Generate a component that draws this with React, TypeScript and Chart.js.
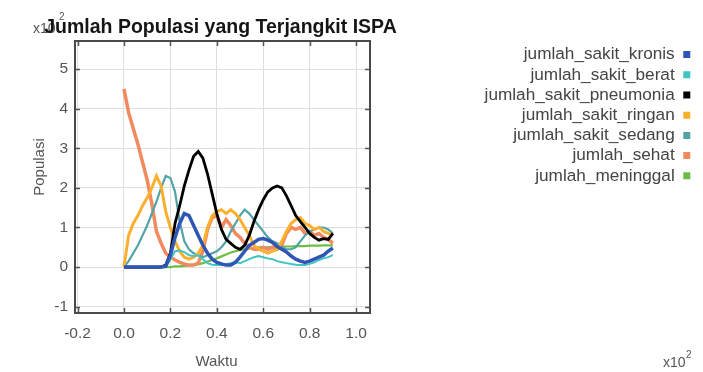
import React, { useEffect, useRef } from "react";
import { Chart, registerables } from "chart.js";

Chart.register(...registerables);

// ---- data (Waktu in units of x10^2, Populasi in units of x10^2) ----
const waktu = [
  0.0, 0.02, 0.04, 0.06, 0.08, 0.1, 0.12, 0.14, 0.16, 0.18, 0.2, 0.22, 0.24, 0.26, 0.28, 0.3,
  0.32, 0.34, 0.36, 0.38, 0.4, 0.42, 0.44, 0.46, 0.48, 0.5, 0.52, 0.54, 0.56, 0.58, 0.6, 0.62,
  0.64, 0.66, 0.68, 0.7, 0.72, 0.74, 0.76, 0.78, 0.8, 0.82, 0.84, 0.86, 0.88, 0.9,
];

const jumlahSakitKronis = [
  0, 0, 0, 0, 0, 0, 0, 0, 0, 0.02, 0.3, 0.75, 1.1, 1.35, 1.3, 1.05, 0.8, 0.55, 0.35, 0.2, 0.12,
  0.08, 0.05, 0.05, 0.12, 0.25, 0.4, 0.55, 0.62, 0.7, 0.72, 0.68, 0.62, 0.52, 0.45, 0.38, 0.28,
  0.2, 0.15, 0.12, 0.15, 0.2, 0.25, 0.3, 0.4, 0.48,
];

const jumlahSakitBerat = [
  0, 0, 0, 0, 0, 0, 0, 0, 0, 0, 0.2, 0.4, 0.42, 0.38, 0.3, 0.28, 0.3, 0.2, 0.1, 0.06, 0.05, 0.05,
  0.07, 0.1, 0.12, 0.1, 0.15, 0.2, 0.25, 0.28, 0.25, 0.22, 0.2, 0.15, 0.12, 0.1, 0.08, 0.06, 0.05,
  0.05, 0.08, 0.12, 0.18, 0.22, 0.25, 0.3,
];

const jumlahSakitPneumonia = [
  0, 0, 0, 0, 0, 0, 0, 0, 0, 0.05, 0.35, 1.1, 1.55, 2.05, 2.45, 2.8, 2.92, 2.75, 2.35, 1.85, 1.35,
  0.95, 0.7, 0.6, 0.5, 0.45, 0.55, 0.8, 1.15, 1.45, 1.7, 1.9, 2.0, 2.05, 2.0, 1.8, 1.55, 1.3, 1.15,
  1.0, 0.85, 0.75, 0.68, 0.72, 0.7, 0.85,
];

const jumlahSakitRingan = [
  0, 0.8, 1.1, 1.3, 1.55, 1.75, 2.0, 2.3, 2.05, 1.4, 1.0, 0.65, 0.4, 0.25, 0.2, 0.25, 0.35, 0.55,
  1.0, 1.3, 1.4, 1.45, 1.35, 1.45, 1.35, 1.2, 1.0, 0.8, 0.55, 0.45, 0.4, 0.35, 0.4, 0.45, 0.65, 0.9,
  1.1, 1.2, 1.25, 1.1, 1.05, 0.95, 1.0, 0.9, 0.85, 0.8,
];

const jumlahSakitSedang = [
  0, 0.15, 0.35, 0.55, 0.8, 1.05, 1.35, 1.65, 2.0, 2.3, 2.25, 1.9, 1.15, 0.65, 0.45, 0.35, 0.3,
  0.25, 0.3, 0.35, 0.4, 0.5, 0.65, 0.9, 1.1, 1.3, 1.45, 1.35, 1.2, 1.05, 0.9, 0.75, 0.65, 0.6, 0.5,
  0.45, 0.45, 0.5, 0.65, 0.8, 0.9, 0.95, 1.0, 1.0, 0.95, 0.85,
];

const jumlahSehat = [
  4.5, 3.9, 3.5, 3.1, 2.65, 2.2, 1.6, 0.9, 0.6, 0.35, 0.25, 0.18, 0.12, 0.08, 0.05, 0.05, 0.1, 0.4,
  0.95, 1.25, 1.3, 1.0, 1.2, 1.05, 0.85, 0.75, 0.6, 0.5, 0.45, 0.45, 0.5, 0.45, 0.5, 0.45, 0.55,
  0.85, 1.0, 0.95, 1.0, 0.85, 0.9, 0.8, 0.85, 0.75, 0.7, 0.6,
];

const jumlahMeninggal = [
  0, 0, 0, 0, 0, 0, 0, 0, 0, 0, 0, 0.02, 0.02, 0.03, 0.04, 0.05, 0.07, 0.1, 0.14, 0.18, 0.22, 0.27,
  0.32, 0.37, 0.4, 0.43, 0.45, 0.47, 0.48, 0.5, 0.5, 0.5, 0.51, 0.51, 0.52, 0.52, 0.52, 0.53, 0.53,
  0.53, 0.54, 0.54, 0.54, 0.55, 0.55, 0.55,
];

const seriesLabels = [
  "jumlah_sakit_kronis",
  "jumlah_sakit_berat",
  "jumlah_sakit_pneumonia",
  "jumlah_sakit_ringan",
  "jumlah_sakit_sedang",
  "jumlah_sehat",
  "jumlah_meninggal",
];
const seriesValues = [
  jumlahSakitKronis,
  jumlahSakitBerat,
  jumlahSakitPneumonia,
  jumlahSakitRingan,
  jumlahSakitSedang,
  jumlahSehat,
  jumlahMeninggal,
];
const seriesColors = ["#2f55b5", "#40c4c4", "#000000", "#fbb02d", "#52a3a6", "#f28a60", "#6cbd45"];
const seriesWidths = [3.5, 2, 2.8, 3, 2.2, 3.5, 2.2];

const chartTitle = "Jumlah Populasi yang Terjangkit ISPA";
const xTitle = "Waktu";
const yTitle = "Populasi";
const multiplierBase = "x10";
const multiplierExp = "2";

const FONT = "Arial, 'Liberation Sans', Helvetica, sans-serif";

const decorPlugin = {
  id: "decor",
  beforeDraw(chart: any) {
    const ctx = chart.ctx;
    ctx.save();
    ctx.fillStyle = "#555";
    ctx.textAlign = "left";
    ctx.textBaseline = "alphabetic";
    // y multiplier (top-left, partially under title)
    ctx.font = `14px ${FONT}`;
    ctx.fillText(multiplierBase, 33, 33);
    ctx.font = `10px ${FONT}`;
    ctx.fillText(multiplierExp, 59, 20);
    ctx.restore();
  },
  afterDraw(chart: any) {
    const ctx = chart.ctx;
    const a = chart.chartArea;
    const xs = chart.scales.x;
    const ys = chart.scales.y;
    ctx.save();
    // inward tick marks
    ctx.strokeStyle = "#555";
    ctx.lineWidth = 1.5;
    const tl = 5;
    ctx.beginPath();
    xs.ticks.forEach((t: any) => {
      const px = Math.round(xs.getPixelForValue(t.value)) + 0.5;
      if (px < a.left || px > a.right) return;
      ctx.moveTo(px, a.bottom);
      ctx.lineTo(px, a.bottom - tl);
      ctx.moveTo(px, a.top);
      ctx.lineTo(px, a.top + tl);
    });
    ys.ticks.forEach((t: any) => {
      const py = Math.round(ys.getPixelForValue(t.value)) + 0.5;
      if (py < a.top || py > a.bottom) return;
      ctx.moveTo(a.left, py);
      ctx.lineTo(a.left + tl, py);
      ctx.moveTo(a.right, py);
      ctx.lineTo(a.right - tl, py);
    });
    ctx.stroke();
    // frame
    ctx.lineWidth = 2;
    ctx.strokeStyle = "#4a4a4a";
    ctx.strokeRect(a.left, a.top, a.right - a.left, a.bottom - a.top);

    // axis titles
    ctx.fillStyle = "#555";
    ctx.font = `15px ${FONT}`;
    ctx.textAlign = "center";
    ctx.textBaseline = "middle";
    ctx.fillText(xTitle, 216.5, 362);
    ctx.translate(40, 167);
    ctx.rotate(-Math.PI / 2);
    ctx.fillText(yTitle, 0, 0);
    ctx.setTransform(1, 0, 0, 1, 0, 0);

    // x multiplier (bottom-right)
    ctx.textAlign = "left";
    ctx.textBaseline = "alphabetic";
    ctx.font = `14px ${FONT}`;
    ctx.fillText(multiplierBase, 663, 367);
    ctx.font = `10px ${FONT}`;
    ctx.fillText(multiplierExp, 686, 358);
    ctx.restore();
  },
  beforeLayout(chart: any) {
    const leg = chart.legend;
    if (leg && !leg.__patched) {
      const orig = leg.fit.bind(leg);
      leg.fit = function () {
        orig();
        this.width = 323.3;
      };
      leg.__patched = true;
    }
  },
  afterLayout(chart: any) {
    // let the title overhang the plot area (centred on it) instead of being squeezed
    const t = chart.titleBlock;
    if (t) {
      const a = chart.chartArea;
      const c = (a.left + a.right) / 2 - 2;
      t.left = c - 200;
      t.right = c + 200;
      t.width = 400;
    }
    const leg = chart.legend;
    if (leg) {
      leg.top += 2;
      leg.bottom += 2;
    }
  },
};

export default function App() {
  const canvasRef = useRef<HTMLCanvasElement | null>(null);

  useEffect(() => {
    document.body.style.margin = "0";
    const canvas = canvasRef.current;
    if (!canvas) return;
    Chart.defaults.font.family = FONT;

    const datasets = seriesLabels.map((label, i) => ({
      label,
      data: waktu.map((x, j) => ({ x, y: seriesValues[i][j] })),
      borderColor: seriesColors[i],
      backgroundColor: seriesColors[i],
      borderWidth: seriesWidths[i],
      pointRadius: 0,
      tension: 0,
      fill: false,
    }));

    const chart = new Chart(canvas, {
      type: "line",
      data: { datasets },
      plugins: [decorPlugin],
      options: {
        responsive: false,
        animation: false,
        layout: { padding: { top: 0, right: 9.7, bottom: 0, left: 0 } },
        scales: {
          x: {
            type: "linear",
            min: -0.211,
            max: 1.06,
            ticks: {
              stepSize: 0.2,
              includeBounds: false,
              color: "#555",
              font: { size: 15.5 },
              padding: 11,
              maxRotation: 0,
              callback: (v: any) => Number(v).toFixed(1),
            },
            grid: { color: "#dedede", drawTicks: false },
            border: { display: false },
            afterFit: (s: any) => {
              s.height = 59;
            },
          },
          y: {
            type: "linear",
            min: -1.16,
            max: 5.71,
            ticks: {
              stepSize: 1,
              includeBounds: false,
              color: "#555",
              font: { size: 15.5 },
              padding: 7,
              callback: (v: any) => String(Math.round(Number(v))),
            },
            grid: { color: "#dedede", drawTicks: false },
            border: { display: false },
            afterFit: (s: any) => {
              s.width = 75;
            },
          },
        },
        plugins: {
          title: {
            display: true,
            text: chartTitle,
            fullSize: false,
            color: "#151515",
            font: { family: FONT, size: 19.5, weight: "bold" },
            padding: { top: 16.2, bottom: 1.4 },
          },
          legend: {
            display: true,
            position: "right",
            align: "start",
            rtl: true,
            fullSize: false,
            labels: {
              boxWidth: 7,
              boxHeight: 7,
              padding: 3.0,
              color: "#444",
              font: { size: 17.2 },
              generateLabels: (c: any) =>
                (Chart.defaults.plugins.legend.labels as any)
                  .generateLabels(c)
                  .map((l: any) => ({ ...l, lineWidth: 0 })),
            },
          },
          tooltip: { enabled: false },
        },
      } as any,
    });

    return () => chart.destroy();
  }, []);

  return (
    <div style={{ width: 703, height: 372 }}>
      <canvas ref={canvasRef} width={703} height={372} style={{ display: "block" }} />
    </div>
  );
}
